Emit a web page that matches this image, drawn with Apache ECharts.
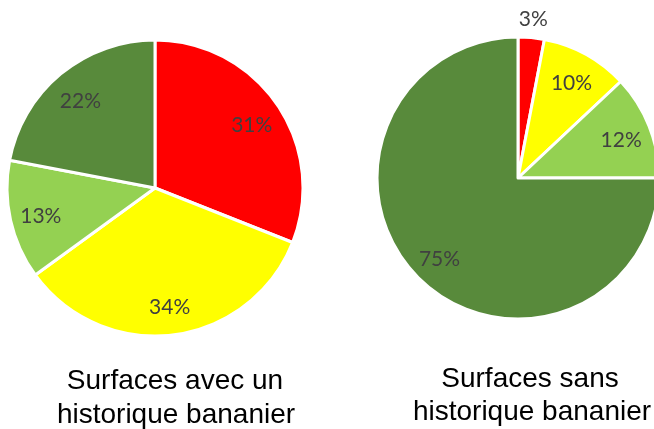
<!DOCTYPE html>
<html>
<head>
<meta charset="utf-8">
<script src="https://cdn.jsdelivr.net/npm/echarts@6/dist/echarts.min.js"></script>
<style>
html,body{margin:0;padding:0;background:#fff;}
#chart{width:654px;height:429px;}
</style>
</head>
<body>
<div id="chart"></div>
<script>
const categories = ['Rouge', 'Jaune', 'Vert clair', 'Vert foncé'];
const leftValues = [31, 34, 13, 22];
const rightValues = [3, 10, 12, 75];
const leftTitle = ['Surfaces avec un', 'historique bananier'];
const rightTitle = ['Surfaces sans', 'historique bananier'];

const colors = ['#FF0000', '#FFFF00', '#94D152', '#588A3B'];
const labelColor = '#404040';
const labelFont = 'Lato, "Open Sans", sans-serif';

function mainPie(values, center, r) {
  return {
    type: 'pie', center: center, radius: [0, r], startAngle: 90, clockwise: true,
    silent: true, animation: false, label: { show: false }, labelLine: { show: false },
    itemStyle: { borderColor: '#ffffff', borderWidth: 3 },
    data: values.map((v, i) => ({ name: categories[i], value: v, itemStyle: { color: colors[i] } }))
  };
}
function labelPie(values, center, r0, r, onlyIndex) {
  return {
    type: 'pie', center: center, radius: [r0, r], startAngle: 90, clockwise: true,
    silent: true, animation: false, z: 5,
    itemStyle: { color: 'rgba(0,0,0,0)', borderWidth: 0 },
    labelLine: { show: false },
    data: values.map((v, i) => ({
      name: categories[i], value: v,
      label: {
        show: onlyIndex == null ? true : onlyIndex.indexOf(i) >= 0,
        position: 'inside', formatter: '{c}%', offset: [0, 3],
        color: labelColor, fontFamily: labelFont, fontSize: 21
      }
    }))
  };
}

const chart = echarts.init(document.getElementById('chart'), null, { renderer: 'canvas' });
const titleStyle = { fill: '#000', fontFamily: 'Arial, "Liberation Sans", sans-serif', fontSize: 28, align: 'center', verticalAlign: 'middle' };
chart.setOption({
  backgroundColor: '#ffffff',
  animation: false,
  series: [
    mainPie(leftValues, [155, 188], 148),
    labelPie(leftValues, [155, 188], 80, 148),
    mainPie(rightValues, [518, 178], 141),
    labelPie(rightValues, [518, 178], 75, 141, [1, 2, 3]),
    labelPie(rightValues, [518, 178], 141, 177, [0])
  ],
  graphic: [
    { type: 'text', silent: true, style: Object.assign({}, titleStyle, { text: leftTitle[0], x: 175, y: 381 }) },
    { type: 'text', silent: true, style: Object.assign({}, titleStyle, { text: leftTitle[1], x: 176, y: 415 }) },
    { type: 'text', silent: true, style: Object.assign({}, titleStyle, { text: rightTitle[0], x: 530, y: 379 }) },
    { type: 'text', silent: true, style: Object.assign({}, titleStyle, { text: rightTitle[1], x: 532, y: 412 }) }
  ]
});
</script>
</body>
</html>
